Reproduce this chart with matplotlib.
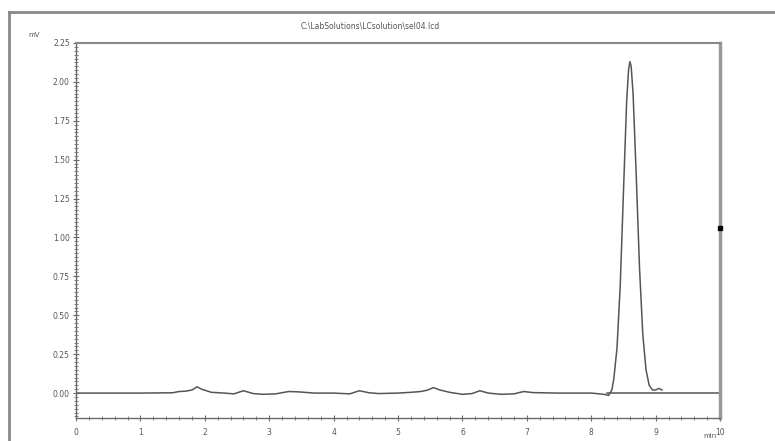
import matplotlib.pyplot as plt
from matplotlib.lines import Line2D
from matplotlib.ticker import MultipleLocator

# chromatogram trace (min, mV)
TIME = [0.0, 0.3, 1.0, 1.5, 1.6, 1.7, 1.8, 1.88, 1.95, 2.1, 2.3, 2.45,
        2.6, 2.75, 2.9, 3.1, 3.3, 3.45, 3.7, 4.0, 4.25, 4.4, 4.55, 4.7,
        5.0, 5.2, 5.35, 5.45, 5.55, 5.65, 5.8, 6.0, 6.15, 6.27, 6.4, 6.6,
        6.8, 6.95, 7.1, 7.5, 8.0, 8.2, 8.27, 8.32, 8.35, 8.4, 8.45, 8.5,
        8.55, 8.58, 8.6, 8.62, 8.65, 8.7, 8.75, 8.8, 8.85, 8.9, 8.95, 9.0,
        9.05, 9.1]
SIGNAL = [0.0, 0.0, 0.0, 0.002, 0.01, 0.012, 0.02, 0.04, 0.025, 0.005,
          0.0, -0.005, 0.015, -0.003, -0.008, -0.005, 0.01, 0.008, 0.0,
          0.0, -0.005, 0.015, 0.002, -0.003, 0.0, 0.005, 0.01, 0.018,
          0.035, 0.02, 0.005, -0.008, -0.003, 0.015, 0.0, -0.008, -0.005,
          0.01, 0.003, 0.0, 0.0, -0.008, -0.015, 0.02, 0.09, 0.29, 0.69,
          1.29, 1.88, 2.08, 2.13, 2.10, 1.92, 1.38, 0.80, 0.38, 0.15, 0.05,
          0.02, 0.02, 0.03, 0.02]

# drawn baseline under the main peak
BASELINE_T = [8.25, 10.0]
BASELINE_Y = [0.0, 0.0]

TITLE = 'C:\\LabSolutions\\LCsolution\\sel04.lcd'

GRAY = '#6a6a6a'

fig = plt.figure(figsize=(7.75, 4.41), dpi=100)
ax = fig.add_axes([0.0981, 0.0522, 0.8310, 0.8503])

# plot the data
ax.plot(TIME, SIGNAL, color='#555555', linewidth=1.1)
ax.plot(BASELINE_T, BASELINE_Y, color='#555555', linewidth=1.1)

# small marker on the right edge
ax.plot([10.0], [1.06], marker='s', markersize=3, color='black',
        clip_on=False, zorder=5)

ax.set_xlim(0, 10)
ax.set_ylim(-0.16, 2.25)

# ticks
ax.xaxis.set_major_locator(MultipleLocator(1))
ax.xaxis.set_minor_locator(MultipleLocator(0.2))
ax.yaxis.set_major_locator(MultipleLocator(0.25))
ax.yaxis.set_minor_locator(MultipleLocator(0.025))
ax.yaxis.set_major_formatter(lambda v, pos: f'{v:.2f}')
ax.tick_params(which='both', direction='inout', color=GRAY,
               labelcolor='#555555', labelsize=5.5, pad=2)
ax.tick_params(which='major', length=5, width=0.8)
ax.tick_params(which='minor', length=3, width=0.6)
ax.tick_params(axis='x', pad=5)

# frame
for side in ['left', 'bottom']:
    ax.spines[side].set_color(GRAY)
    ax.spines[side].set_linewidth(1.0)
ax.spines['top'].set_color('#888888')
ax.spines['top'].set_linewidth(1.5)
ax.spines['right'].set_color('#999999')
ax.spines['right'].set_linewidth(2.5)

# labels
fig.text(0.036, 0.915, 'mV', fontsize=5, color='#555555')
fig.text(0.907, 0.004, 'min', fontsize=5, color='#555555', va='bottom')
fig.text(0.478, 0.94, TITLE, fontsize=5.5, color='#555555', ha='center',
         va='center')

# outer page frame
fig.add_artist(Line2D([0.012, 1.0], [0.973, 0.973], color='#888888',
                      linewidth=2))
fig.add_artist(Line2D([0.012, 0.012], [0.0, 0.973], color='#888888',
                      linewidth=2))

fig.savefig('out.png', dpi=100)
